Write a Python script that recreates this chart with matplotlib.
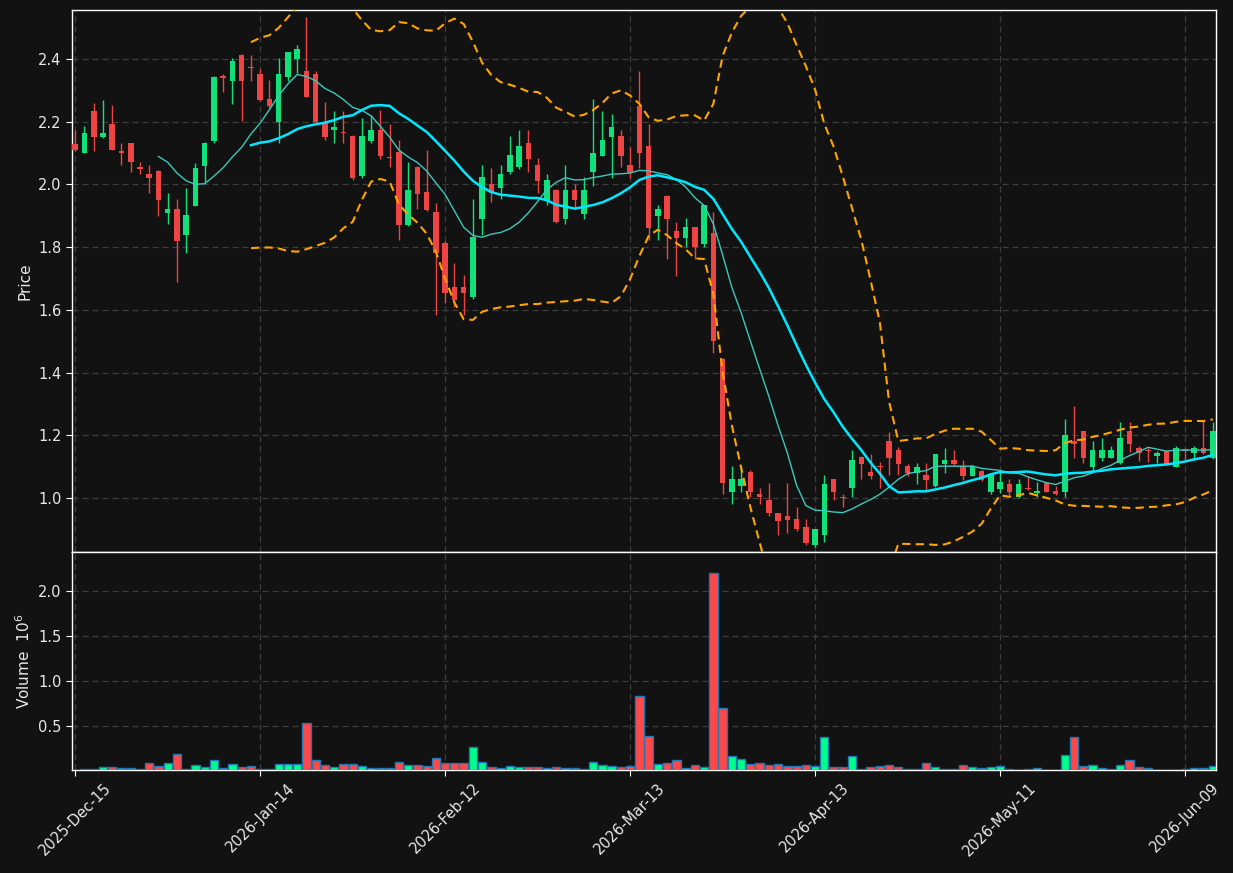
import numpy as np
import pandas as pd
import matplotlib
matplotlib.use("Agg")
import matplotlib.pyplot as plt

# OHLC, one row per trading day
opens = [2.130, 2.100, 2.234, 2.152, 2.193, 2.105, 2.131, 2.057, 2.033, 2.043,
         1.910, 1.922, 1.839, 1.932, 2.060, 2.139, 2.345, 2.331, 2.413, 2.375,
         2.352, 2.272, 2.200, 2.341, 2.401, 2.362, 2.352, 2.200, 2.174, 2.166,
         2.154, 2.027, 2.140, 2.174, 2.086, 2.104, 1.871, 2.054, 1.975, 1.912,
         1.812, 1.672, 1.672, 1.642, 1.890, 2.001, 1.990, 2.041, 2.057, 2.131,
         2.062, 1.950, 1.982, 1.890, 1.982, 1.906, 2.041, 2.092, 2.152, 2.154,
         2.062, 2.250, 2.123, 1.899, 1.963, 1.853, 1.830, 1.863, 1.809, 1.844,
         1.443, 1.020, 1.038, 1.083, 1.012, 0.994, 0.951, 0.943, 0.932, 0.909,
         0.850, 0.881, 1.061, 1.003, 1.031, 1.132, 1.083, 1.101, 1.182, 1.153,
         1.102, 1.081, 1.075, 1.038, 1.108, 1.120, 1.102, 1.070, 1.086, 1.020,
         1.028, 1.044, 1.002, 1.033, 1.015, 1.049, 1.024, 1.020, 1.182, 1.214,
         1.100, 1.129, 1.129, 1.111, 1.214, 1.161, 1.154, 1.135, 1.150, 1.100,
         1.155, 1.143, 1.161, 1.129]
highs = [2.175, 2.185, 2.260, 2.270, 2.252, 2.131, 2.131, 2.070, 2.062, 2.045,
         1.972, 1.953, 1.990, 2.069, 2.136, 2.346, 2.352, 2.402, 2.415, 2.413,
         2.369, 2.333, 2.402, 2.422, 2.445, 2.535, 2.362, 2.262, 2.234, 2.234,
         2.156, 2.211, 2.221, 2.237, 2.193, 2.142, 2.071, 2.060, 2.110, 1.940,
         1.820, 1.750, 1.710, 1.953, 2.062, 2.052, 2.062, 2.154, 2.174, 2.174,
         2.083, 2.032, 1.984, 2.062, 2.000, 2.025, 2.271, 2.234, 2.224, 2.174,
         2.119, 2.362, 2.192, 1.934, 1.965, 1.881, 1.892, 1.865, 1.935, 1.912,
         1.445, 1.102, 1.102, 1.091, 1.031, 1.049, 0.953, 1.049, 0.970, 0.932,
         0.902, 1.075, 1.061, 1.012, 1.153, 1.133, 1.142, 1.116, 1.211, 1.163,
         1.108, 1.111, 1.111, 1.142, 1.161, 1.153, 1.120, 1.105, 1.090, 1.080,
         1.083, 1.061, 1.061, 1.069, 1.050, 1.050, 1.038, 1.251, 1.293, 1.215,
         1.182, 1.191, 1.165, 1.241, 1.241, 1.165, 1.161, 1.150, 1.150, 1.165,
         1.161, 1.165, 1.249, 1.241]
lows = [2.105, 2.100, 2.105, 2.147, 2.110, 2.063, 2.041, 2.032, 1.972, 1.900,
        1.873, 1.690, 1.780, 1.930, 2.003, 2.131, 2.295, 2.255, 2.202, 2.331,
        2.265, 2.245, 2.133, 2.330, 2.354, 2.278, 2.198, 2.142, 2.131, 2.131,
        2.014, 2.022, 2.133, 2.082, 2.055, 1.823, 1.869, 1.921, 1.915, 1.584,
        1.622, 1.610, 1.584, 1.635, 1.839, 1.943, 1.953, 2.032, 2.050, 2.041,
        1.972, 1.934, 1.878, 1.873, 1.921, 1.890, 1.995, 2.090, 2.022, 2.054,
        2.022, 2.052, 1.823, 1.823, 1.761, 1.709, 1.801, 1.761, 1.800, 1.462,
        1.012, 0.980, 1.020, 1.002, 0.980, 0.943, 0.881, 0.890, 0.895, 0.850,
        0.845, 0.861, 0.994, 0.973, 1.002, 1.061, 1.061, 1.031, 1.075, 1.075,
        1.070, 1.044, 1.026, 1.035, 1.081, 1.105, 1.059, 1.070, 1.055, 1.012,
        1.015, 1.010, 1.000, 1.026, 1.002, 1.020, 1.010, 1.002, 1.129, 1.111,
        1.089, 1.118, 1.129, 1.108, 1.148, 1.118, 1.114, 1.111, 1.105, 1.100,
        1.120, 1.120, 1.140, 1.125]
closes = [2.110, 2.163, 2.152, 2.163, 2.111, 2.100, 2.073, 2.049, 2.022, 1.950,
          1.922, 1.821, 1.903, 2.052, 2.131, 2.343, 2.340, 2.394, 2.331, 2.372,
          2.269, 2.250, 2.352, 2.422, 2.432, 2.280, 2.200, 2.152, 2.184, 2.163,
          2.022, 2.154, 2.174, 2.092, 2.083, 1.871, 1.982, 1.971, 1.918, 1.780,
          1.653, 1.632, 1.653, 1.831, 2.024, 1.972, 2.033, 2.094, 2.123, 2.082,
          2.011, 2.014, 1.881, 1.982, 1.950, 1.982, 2.101, 2.142, 2.183, 2.092,
          2.036, 2.101, 1.861, 1.921, 1.890, 1.830, 1.863, 1.801, 1.934, 1.502,
          1.049, 1.061, 1.061, 1.020, 1.002, 0.951, 0.928, 0.930, 0.902, 0.856,
          0.902, 1.044, 1.020, 1.000, 1.120, 1.108, 1.070, 1.099, 1.129, 1.108,
          1.081, 1.100, 1.059, 1.142, 1.120, 1.108, 1.070, 1.102, 1.057, 1.075,
          1.050, 1.020, 1.044, 1.030, 1.024, 1.020, 1.012, 1.201, 1.171, 1.129,
          1.153, 1.153, 1.153, 1.191, 1.171, 1.143, 1.152, 1.143, 1.108, 1.161,
          1.151, 1.161, 1.145, 1.214]
# volume in millions of shares
volumes = [0.020, 0.030, 0.030, 0.052, 0.052, 0.040, 0.040, 0.030, 0.100, 0.067,
           0.100, 0.200, 0.030, 0.078, 0.052, 0.133, 0.040, 0.089, 0.052, 0.067,
           0.030, 0.030, 0.089, 0.089, 0.089, 0.533, 0.133, 0.078, 0.052, 0.089,
           0.089, 0.067, 0.040, 0.040, 0.040, 0.110, 0.078, 0.078, 0.067, 0.156,
           0.100, 0.100, 0.100, 0.267, 0.110, 0.052, 0.040, 0.067, 0.052, 0.052,
           0.052, 0.040, 0.052, 0.040, 0.040, 0.030, 0.110, 0.078, 0.067, 0.052,
           0.067, 0.833, 0.389, 0.089, 0.100, 0.133, 0.040, 0.078, 0.052, 2.200,
           0.700, 0.178, 0.144, 0.089, 0.100, 0.078, 0.089, 0.067, 0.067, 0.078,
           0.067, 0.378, 0.052, 0.052, 0.178, 0.030, 0.052, 0.067, 0.078, 0.052,
           0.030, 0.030, 0.100, 0.052, 0.030, 0.030, 0.078, 0.052, 0.040, 0.052,
           0.067, 0.030, 0.015, 0.030, 0.040, 0.015, 0.015, 0.189, 0.378, 0.067,
           0.078, 0.040, 0.030, 0.078, 0.133, 0.052, 0.040, 0.018, 0.018, 0.018,
           0.030, 0.040, 0.040, 0.067]

tick_pos = [0, 20, 40, 60, 80, 100, 120]
tick_labels = ["2025-Dec-15", "2026-Jan-14", "2026-Feb-12", "2026-Mar-13",
               "2026-Apr-13", "2026-May-11", "2026-Jun-09"]

df = pd.DataFrame({"Open": opens, "High": highs, "Low": lows,
                   "Close": closes, "Volume": volumes})
x = np.arange(len(df))

# indicators from the closes
mav10 = df["Close"].rolling(10).mean()
mav20 = df["Close"].rolling(20).mean()
std20 = df["Close"].rolling(20).std()
upper = mav20 + 2 * std20
lower = mav20 - 2 * std20

bg = "#121212"
up_c, down_c = "#12e07a", "#ee4444"
vol_up, vol_down = "#00ff88", "#ff4848"

fig = plt.figure(figsize=(12.33, 8.73), dpi=100, facecolor=bg)
ax = fig.add_axes([0.0584, 0.3677, 0.9278, 0.6208], facecolor=bg)
axv = fig.add_axes([0.0584, 0.118, 0.9278, 0.2497], facecolor=bg, sharex=ax)

up = df["Close"] >= df["Open"]
colors = np.where(up, up_c, down_c)

ax.vlines(x, df["Low"], df["High"], colors=colors, linewidth=1.0, zorder=2)
body = (df["Close"] - df["Open"]).where(lambda s: s.abs() > 0.003,
                                        np.sign(df["Close"] - df["Open"] + 1e-9) * 0.003)
ax.bar(x, body, bottom=df["Open"], width=0.6, color=colors, linewidth=0, zorder=3)

ax.plot(x, mav10, color="#3cc8bc", linewidth=1.0, zorder=4)
ax.plot(x, mav20, color="#00e8ff", linewidth=1.8, zorder=4)
ax.plot(x, upper, color="#ffa500", linewidth=1.5, linestyle=(0, (4, 2.5)), zorder=4)
ax.plot(x, lower, color="#ffa500", linewidth=1.5, linestyle=(0, (4, 2.5)), zorder=4)

axv.bar(x, df["Volume"], width=0.9, color=np.where(up, vol_up, vol_down),
        edgecolor="#1f77b4", linewidth=1.0, zorder=3)

ax.set_xlim(-0.35, len(df) - 0.65)
ax.set_ylim(0.828, 2.556)
axv.set_ylim(0.018, 2.43)
ax.set_yticks(np.arange(1.0, 2.41, 0.2))
axv.set_yticks([0.5, 1.0, 1.5, 2.0])
axv.set_xticks(tick_pos)
axv.set_xticklabels(tick_labels, rotation=45)
plt.setp(ax.get_xticklabels(), visible=False)

for a in (ax, axv):
    a.grid(True, color="#3c3c3c", linestyle=(0, (5, 3)), linewidth=0.9, zorder=0)
    a.set_axisbelow(True)
    for s in a.spines.values():
        s.set_color("white")
        s.set_linewidth(1.0)
    a.tick_params(colors="white", labelcolor="#e8e8e8", labelsize=10.5, length=4)

ax.set_ylabel("Price", color="#e8e8e8", fontsize=11)
axv.set_ylabel("Volume  $10^{6}$", color="#e8e8e8", fontsize=11)

fig.savefig("out.png", facecolor=bg)
